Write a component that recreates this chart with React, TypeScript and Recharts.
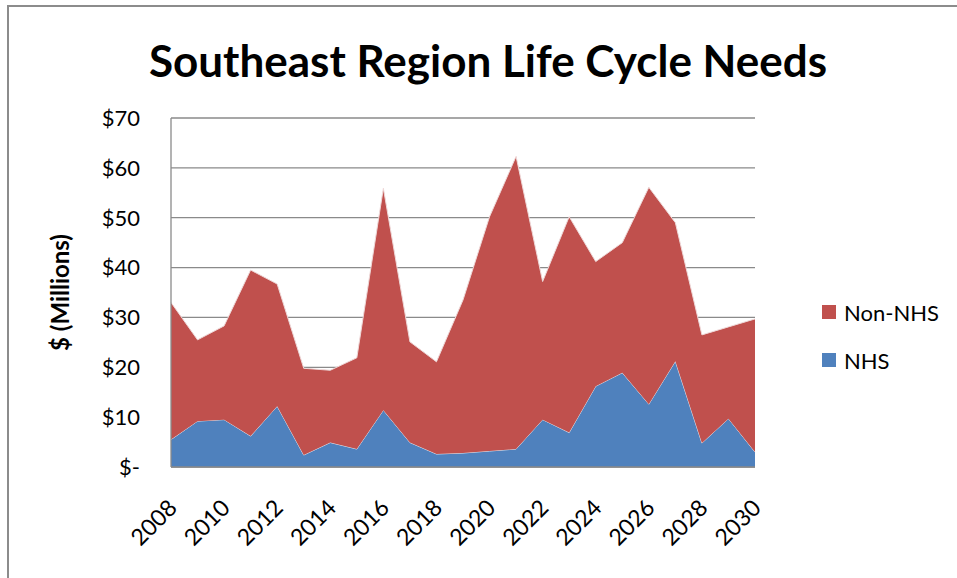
import React from "react";
import { AreaChart, Area, XAxis, YAxis, CartesianGrid } from "recharts";

const years = [2008, 2009, 2010, 2011, 2012, 2013, 2014, 2015, 2016, 2017, 2018, 2019, 2020, 2021, 2022, 2023, 2024, 2025, 2026, 2027, 2028, 2029, 2030];
const nhs = [5.5, 9.2, 9.5, 6.2, 12.2, 2.4, 4.9, 3.6, 11.4, 4.9, 2.6, 2.8, 3.2, 3.6, 9.5, 6.9, 16.2, 18.9, 12.6, 21.2, 4.8, 9.7, 3.0];
const nonNhs = [27.5, 16.3, 18.8, 33.3, 24.5, 17.4, 14.5, 18.3, 44.5, 20.2, 18.5, 30.7, 47.0, 58.7, 27.7, 43.3, 25.0, 26.1, 43.5, 27.8, 21.7, 18.4, 26.7];
const yTicks = [0, 10, 20, 30, 40, 50, 60, 70];
const xTicks = [2008, 2010, 2012, 2014, 2016, 2018, 2020, 2022, 2024, 2026, 2028, 2030];
const seriesNames = { nhs: "NHS", nonNhs: "Non-NHS" };
const title = "Southeast Region Life Cycle Needs";
const yLabel = "$ (Millions)";

const data = years.map((y, i) => ({ year: y, nhs: nhs[i], nonNhs: nonNhs[i] }));

const FONT = "Lato, 'Open Sans', sans-serif";
const BLUE = "#4F81BD";
const RED = "#C0504D";
const GRID = "#8a8a8a";

const XTick = (props: any) => {
  const { x, y, payload } = props;
  return (
    <g transform={`translate(${x + 1},${y + 28})`}>
      <text x={0} y={0} textAnchor="end" dominantBaseline="central" transform="rotate(-45)" fontSize={23} fontFamily={FONT} fill="#000">
        {payload.value}
      </text>
    </g>
  );
};

const fmtY = (v: number) => (v === 0 ? "$-" : `$${v}`);

export default function App() {
  const legendItems = [
    { name: seriesNames.nonNhs, color: RED },
    { name: seriesNames.nhs, color: BLUE },
  ];
  return (
    <div style={{ position: "absolute", left: 0, top: 0, width: 957, height: 578, background: "#fff", overflow: "hidden" }}>
      <div style={{ position: "absolute", left: 7, top: 5, width: 960, height: 580, borderLeft: "2.5px solid #8c8c8c", borderTop: "2.5px solid #8c8c8c" }} />
      <div style={{ position: "absolute", left: 0, width: 976, top: 36, textAlign: "center", fontFamily: FONT, fontWeight: 700, fontSize: 44, lineHeight: "48px", color: "#000", whiteSpace: "nowrap" }}>
        {title}
      </div>
      <div style={{ position: "absolute", left: 0, top: 0 }}>
        <AreaChart width={957} height={578} data={data} margin={{ top: 118, right: 202, bottom: 31, left: 0 }}>
          <CartesianGrid vertical={false} stroke={GRID} strokeWidth={1.3} />
          <XAxis
            dataKey="year"
            type="category"
            ticks={xTicks}
            interval={0}
            tick={<XTick />}
            tickLine={false}
            axisLine={{ stroke: GRID, strokeWidth: 1.3 }}
            height={80}
          />
          <YAxis
            type="number"
            domain={[0, 70]}
            ticks={yTicks}
            tickFormatter={fmtY}
            width={171}
            tickSize={0}
            tickMargin={31}
            axisLine={{ stroke: GRID, strokeWidth: 1.3 }}
            tick={{ fontSize: 22, fontFamily: FONT, fill: "#000" }}
            label={{ value: yLabel, angle: -90, position: "insideLeft", offset: 60, style: { fontSize: 24, fontWeight: 700, fontFamily: FONT, fill: "#000", textAnchor: "middle" } }}
          />
          <Area type="linear" dataKey="nhs" name={seriesNames.nhs} stackId="1" stroke="#dfe6f0" strokeWidth={1} fill={BLUE} fillOpacity={1} isAnimationActive={false} />
          <Area type="linear" dataKey="nonNhs" name={seriesNames.nonNhs} stackId="1" stroke="#eed8d8" strokeWidth={1} fill={RED} fillOpacity={1} isAnimationActive={false} />
        </AreaChart>
      </div>
      {legendItems.map((it, i) => (
        <div key={it.name} style={{ position: "absolute", left: 822, top: 297 + i * 48, height: 30, display: "flex", alignItems: "center", fontFamily: FONT, fontSize: 22, color: "#000" }}>
          <span style={{ display: "inline-block", width: 14, height: 14, background: it.color, marginRight: 8 }} />
          <span>{it.name}</span>
        </div>
      ))}
    </div>
  );
}
